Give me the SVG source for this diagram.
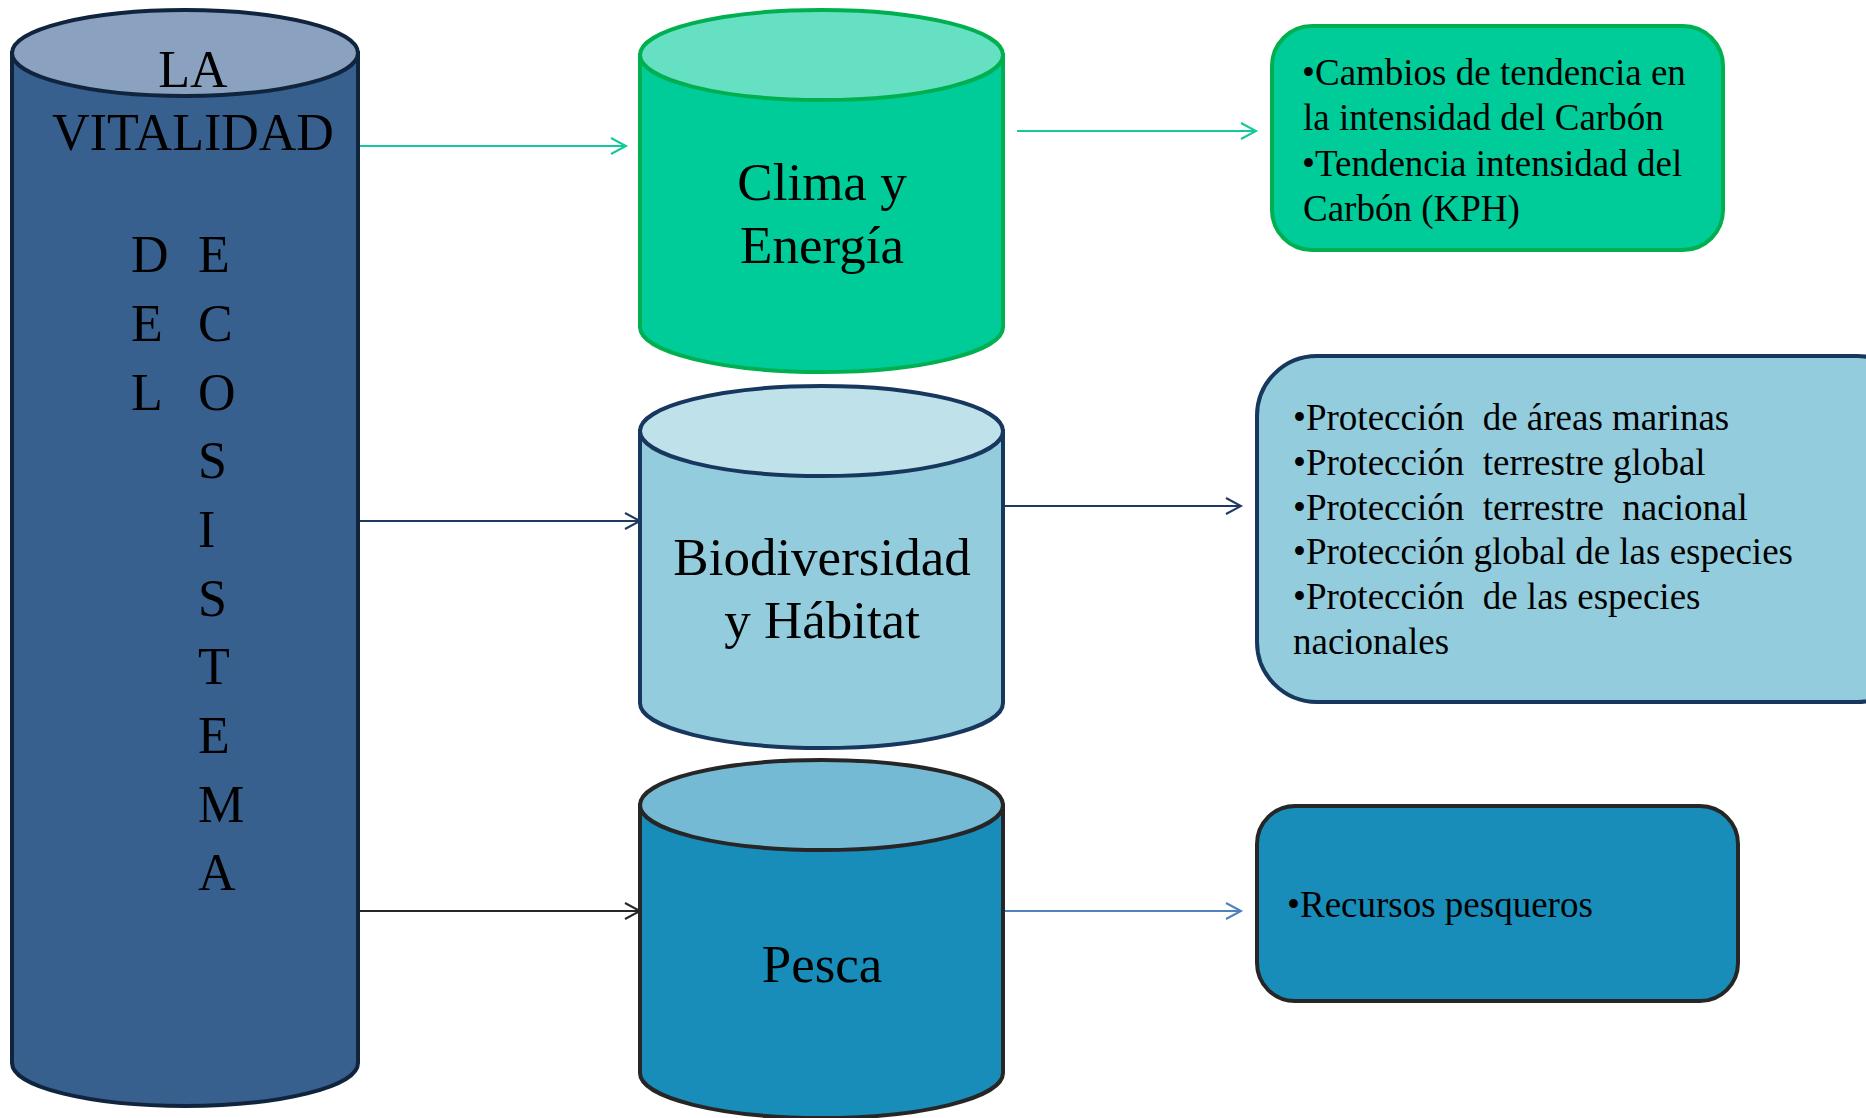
<svg xmlns="http://www.w3.org/2000/svg" width="1866" height="1118" viewBox="0 0 1866 1118">
<style>
text{font-family:"Liberation Serif","Times New Roman",serif;fill:#000}
.big{font-size:52px}
.cyl{font-size:53px;text-anchor:middle}
.box{font-size:37px;white-space:pre}
.ln{fill:none;stroke-width:2}
</style>
<defs>
<marker id="aG" markerUnits="userSpaceOnUse" markerWidth="20" markerHeight="20" refX="17" refY="10" orient="auto"><path d="M2,2 L17,10 L2,18" fill="none" stroke="#14C899" stroke-width="2"/></marker>
<marker id="aN" markerUnits="userSpaceOnUse" markerWidth="20" markerHeight="20" refX="17" refY="10" orient="auto"><path d="M2,2 L17,10 L2,18" fill="none" stroke="#1F3A60" stroke-width="2"/></marker>
<marker id="aK" markerUnits="userSpaceOnUse" markerWidth="20" markerHeight="20" refX="17" refY="10" orient="auto"><path d="M2,2 L17,10 L2,18" fill="none" stroke="#262626" stroke-width="2"/></marker>
<marker id="aB" markerUnits="userSpaceOnUse" markerWidth="20" markerHeight="20" refX="17" refY="10" orient="auto"><path d="M2,2 L17,10 L2,18" fill="none" stroke="#4F81BD" stroke-width="2"/></marker>
</defs>

<g id="vitalidad">
<path d="M12,53 V1063 A173,43 0 0 0 358,1063 V53 Z" fill="#37608F" stroke="#10243E" stroke-width="4"/>
<ellipse cx="185" cy="53" rx="173" ry="43" fill="#8AA2BF" stroke="#10243E" stroke-width="4"/>
<text class="big" x="193" y="87" text-anchor="middle">LA</text>
<text class="big" x="193" y="150" text-anchor="middle">VITALIDAD</text>
<text class="big" x="131" y="272">D</text><text class="big" x="198" y="272">E</text>
<text class="big" x="131" y="341">E</text><text class="big" x="198" y="341">C</text>
<text class="big" x="131" y="410">L</text><text class="big" x="198" y="410">O</text>
<text class="big" x="198" y="478">S</text>
<text class="big" x="198" y="547">I</text>
<text class="big" x="198" y="616">S</text>
<text class="big" x="198" y="684">T</text>
<text class="big" x="198" y="753">E</text>
<text class="big" x="198" y="822">M</text>
<text class="big" x="198" y="890">A</text>
</g>

<g id="clima">
<path d="M640,55 V327 A181.5,45 0 0 0 1003,327 V55 Z" fill="#00CC99" stroke="#00B050" stroke-width="4"/>
<ellipse cx="821.5" cy="55" rx="181.5" ry="45" fill="#66E0C2" stroke="#00B050" stroke-width="4"/>
<text class="cyl" x="822" y="200">Clima y</text>
<text class="cyl" x="822" y="263">Energía</text>
</g>

<g id="biodiversidad">
<path d="M640,431 V703 A181.5,45 0 0 0 1003,703 V431 Z" fill="#93CDDD" stroke="#17375E" stroke-width="4"/>
<ellipse cx="821.5" cy="431" rx="181.5" ry="45" fill="#BEE1EA" stroke="#17375E" stroke-width="4"/>
<text class="cyl" x="822" y="575">Biodiversidad</text>
<text class="cyl" x="822" y="638">y Hábitat</text>
</g>

<g id="pesca">
<path d="M640,805 V1073 A181.5,45 0 0 0 1003,1073 V805 Z" fill="#188DB9" stroke="#262626" stroke-width="4"/>
<ellipse cx="821.5" cy="805" rx="181.5" ry="45" fill="#74BAD4" stroke="#262626" stroke-width="4"/>
<text class="cyl" x="822" y="982">Pesca</text>
</g>

<g id="box-clima">
<rect x="1272" y="26" width="451" height="224" rx="40" fill="#00CC99" stroke="#00B050" stroke-width="4"/>
<text class="box" x="1302" y="85">•Cambios de tendencia en</text>
<text class="box" x="1303" y="130">la intensidad del Carbón</text>
<text class="box" x="1302" y="176">•Tendencia intensidad del</text>
<text class="box" x="1303" y="221">Carbón (KPH)</text>
</g>

<g id="box-bio">
<rect x="1257" y="356" width="660" height="346" rx="60" fill="#93CDDD" stroke="#17375E" stroke-width="4"/>
<text class="box" x="1293" y="430" xml:space="preserve">•Protección  de áreas marinas</text>
<text class="box" x="1293" y="475" xml:space="preserve">•Protección  terrestre global</text>
<text class="box" x="1293" y="520" xml:space="preserve">•Protección  terrestre  nacional</text>
<text class="box" x="1293" y="564">•Protección global de las especies</text>
<text class="box" x="1293" y="609" xml:space="preserve">•Protección  de las especies</text>
<text class="box" x="1293" y="654">nacionales</text>
</g>

<g id="box-pesca">
<rect x="1257" y="806" width="481" height="195" rx="38" fill="#188DB9" stroke="#262626" stroke-width="4"/>
<text class="box" x="1287" y="917">•Recursos pesqueros</text>
</g>

<g id="connectors">
<line class="ln" x1="360" y1="146" x2="626" y2="146" stroke="#14C899" marker-end="url(#aG)"/>
<line class="ln" x1="1017" y1="131" x2="1256" y2="131" stroke="#14C899" marker-end="url(#aG)"/>
<line class="ln" x1="360" y1="521" x2="640" y2="521" stroke="#1F3A60" marker-end="url(#aN)"/>
<line class="ln" x1="1005" y1="506" x2="1241" y2="506" stroke="#1F3A60" marker-end="url(#aN)"/>
<line class="ln" x1="360" y1="911" x2="640" y2="911" stroke="#262626" marker-end="url(#aK)"/>
<line class="ln" x1="1005" y1="911" x2="1241" y2="911" stroke="#4F81BD" marker-end="url(#aB)"/>
</g>
</svg>
